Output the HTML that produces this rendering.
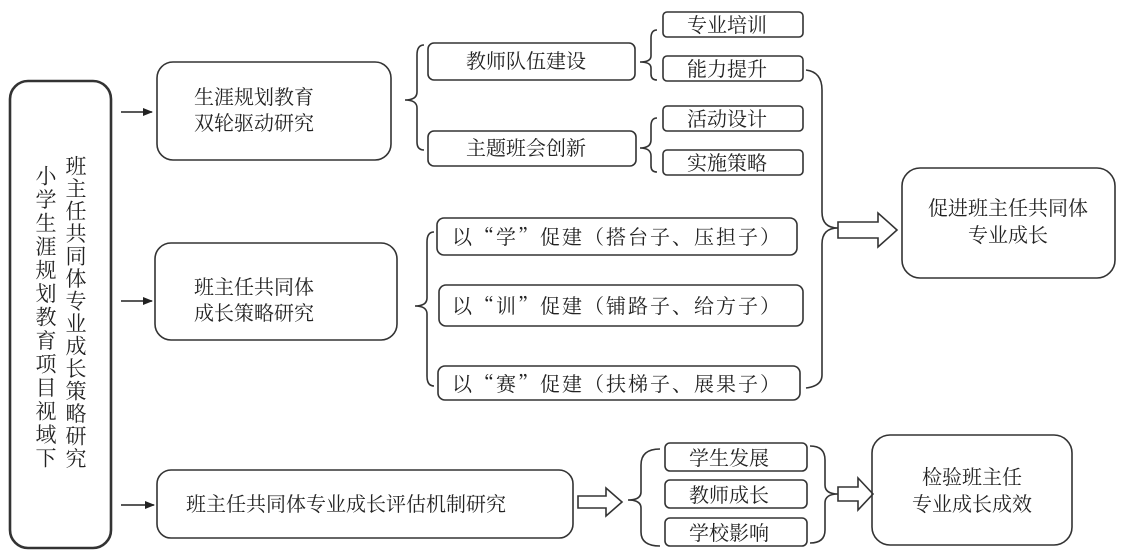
<!DOCTYPE html>
<html><head><meta charset="utf-8"><style>
html,body{margin:0;padding:0;background:#fff;}
svg{display:block;}
text{font-family:"Noto Serif CJK SC","Liberation Serif","Noto Sans CJK SC",serif;fill:#222;}
</style></head><body>
<svg width="1122" height="552" viewBox="0 0 1122 552" xmlns="http://www.w3.org/2000/svg">
<defs><marker id="ah" markerWidth="10" markerHeight="8" refX="9" refY="4" orient="auto" markerUnits="userSpaceOnUse"><path d="M0,0 L10,4 L0,8 Z" fill="#222"/></marker></defs>
<g fill="none" stroke="#333" stroke-width="1.6">
<rect x="10" y="81" width="101" height="467" rx="18" stroke-width="2.6"/>
<rect x="157" y="62" width="234" height="98" rx="16"/>
<rect x="155" y="243" width="242" height="97" rx="16"/>
<rect x="157" y="470" width="416" height="68" rx="14"/>
<rect x="428" y="43" width="207" height="37" rx="6"/>
<rect x="428" y="131" width="208" height="35" rx="6"/>
<rect x="663" y="12" width="140" height="25" rx="4"/>
<rect x="663" y="56" width="140" height="25" rx="4"/>
<rect x="663" y="106" width="140" height="25" rx="4"/>
<rect x="663" y="150" width="140" height="25" rx="4"/>
<rect x="437" y="218" width="360" height="37" rx="7"/>
<rect x="439" y="285" width="364" height="41" rx="7"/>
<rect x="438" y="366" width="362" height="34" rx="7"/>
<rect x="902" y="168" width="213" height="110" rx="18"/>
<rect x="872" y="435" width="200" height="110" rx="18"/>
<rect x="665" y="443" width="142" height="28" rx="5"/>
<rect x="665" y="480" width="142" height="28" rx="5"/>
<rect x="665" y="518" width="142" height="28" rx="5"/>
<path d="M424,45 Q417,45 417,55 L417,92 Q417,100 405,100 Q417,100 417,108 L417,142 Q417,150 424,150"/>
<path d="M657,30 Q651,30 651,38 L651,56 Q651,62 640,62 Q651,62 651,68 L651,74 Q651,80 657,80"/>
<path d="M657,118 Q651,118 651,126 L651,140 Q651,148 640,148 Q651,148 651,156 L651,166 Q651,172 657,172"/>
<path d="M434,232 Q427,232 427,242 L427,298 Q427,306 415,306 Q427,306 427,314 L427,376 Q427,386 434,386"/>
<path d="M806,70 Q822,72 822,90 L822,212 Q822,228 838,228 Q822,228 822,244 L822,375 Q822,386 806,388"/>
<path d="M660,449 Q641,449 641,465 L641,492 Q641,500 628,500 Q641,500 641,508 L641,532 Q641,546 660,546"/>
<path d="M810,446 Q825,446 825,460 L825,485 Q825,494 838,494 Q825,494 825,503 L825,530 Q825,543 810,543"/>
<path d="M838,222 L878,222 L878,213 L897,230 L878,247 L878,238 L838,238 Z"/>
<path d="M578,496 L606,496 L606,488 L622,502 L606,516 L606,508 L578,508 Z"/>
<path d="M838,487 L858,487 L858,478 L873,494 L858,510 L858,501 L838,501 Z"/>
</g>
<g stroke="#222" stroke-width="1.4">
<line x1="121" y1="112" x2="152" y2="112" marker-end="url(#ah)"/>
<line x1="121" y1="301" x2="152" y2="301" marker-end="url(#ah)"/>
<line x1="121" y1="505" x2="154" y2="505" marker-end="url(#ah)"/>
</g>
<text x="76" y="155" font-size="21" style="writing-mode:vertical-rl;letter-spacing:1.5px">班主任共同体专业成长策略研究</text>
<text x="46" y="165" font-size="21" style="writing-mode:vertical-rl;letter-spacing:2.5px">小学生涯规划教育项目视域下</text>
<g font-size="20">
<text x="194" y="104">生涯规划教育</text>
<text x="194" y="130">双轮驱动研究</text>
<text x="194" y="294">班主任共同体</text>
<text x="194" y="320">成长策略研究</text>
<text x="186" y="511">班主任共同体专业成长评估机制研究</text>
<text x="466" y="68">教师队伍建设</text>
<text x="466" y="155">主题班会创新</text>
<text x="687" y="32">专业培训</text>
<text x="687" y="76">能力提升</text>
<text x="687" y="126">活动设计</text>
<text x="687" y="170">实施策略</text>
<text x="452" y="244" style="letter-spacing:2px">以“学”促建（搭台子、压担子）</text>
<text x="452" y="313" style="letter-spacing:2px">以“训”促建（铺路子、给方子）</text>
<text x="452" y="391" style="letter-spacing:2px">以“赛”促建（扶梯子、展果子）</text>
<text x="689" y="465">学生发展</text>
<text x="689" y="502">教师成长</text>
<text x="689" y="540">学校影响</text>
</g>
<g font-size="20" text-anchor="middle">
<text x="1008" y="215">促进班主任共同体</text>
<text x="1008" y="242">专业成长</text>
<text x="972" y="484">检验班主任</text>
<text x="972" y="511">专业成长成效</text>
</g>
</svg>
</body></html>
